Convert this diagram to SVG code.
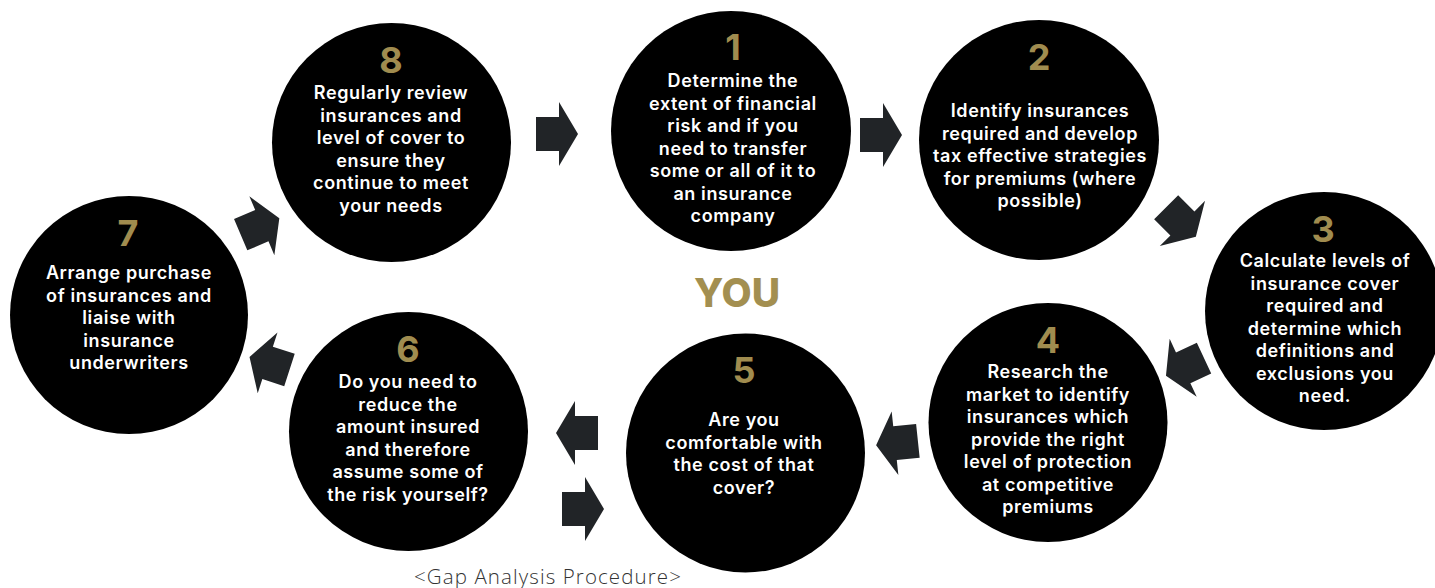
<svg xmlns="http://www.w3.org/2000/svg" width="1435" height="588" viewBox="0 0 1435 588">
<style>
.c{fill:#000}
.n{font-family:Inter,"Liberation Sans",sans-serif;font-weight:700;font-size:36px;fill:#A08C4F;text-anchor:middle}
.t{font-family:Inter,"Liberation Sans",sans-serif;font-weight:600;font-size:18px;letter-spacing:0.6px;fill:#fff;text-anchor:middle}
.you{font-family:Inter,"Liberation Sans",sans-serif;font-weight:800;font-size:39px;fill:#A38F50;text-anchor:middle}
.cap{font-family:"Open Sans","Liberation Sans",sans-serif;font-weight:300;font-size:20.5px;letter-spacing:1.1px;fill:#333;text-anchor:middle}
.a{fill:#212427}
</style>
<defs>
<path id="arr" d="M-21,-17 H2 V-32 L21,0 L2,32 V17 H-21 Z"/>
</defs>
<rect width="1435" height="588" fill="#fff"/>
<g id="connectors">
<use href="#arr" class="a" transform="translate(557,134)"/>
<use href="#arr" class="a" transform="translate(881,135)"/>
<use href="#arr" class="a" transform="translate(1181,222) rotate(45)"/>
<use href="#arr" class="a" transform="translate(1185,367) rotate(155)"/>
<use href="#arr" class="a" transform="translate(897,443) rotate(174)"/>
<use href="#arr" class="a" transform="translate(577,433) rotate(180)"/>
<use href="#arr" class="a" transform="translate(583,509)"/>
<use href="#arr" class="a" transform="translate(269.5,363.5) rotate(198)"/>
<use href="#arr" class="a" transform="translate(260,226.5) rotate(-23)"/>
</g>
<g id="node1">
<circle class="c" cx="731" cy="131" r="120"/>
<text class="n" x="733" y="60">1</text>
<text class="t" x="733" y="87">Determine the</text>
<text class="t" x="733" y="109.5">extent of financial</text>
<text class="t" x="733" y="132">risk and if you</text>
<text class="t" x="733" y="154.5">need to transfer</text>
<text class="t" x="733" y="177">some or all of it to</text>
<text class="t" x="733" y="199.5">an insurance</text>
<text class="t" x="733" y="222">company</text>
</g>
<g id="node2">
<circle class="c" cx="1039" cy="140" r="120"/>
<text class="n" x="1039" y="70">2</text>
<text class="t" x="1040" y="117">Identify insurances</text>
<text class="t" x="1040" y="139.5">required and develop</text>
<text class="t" x="1040" y="162">tax effective strategies</text>
<text class="t" x="1040" y="184.5">for premiums (where</text>
<text class="t" x="1040" y="207">possible)</text>
</g>
<g id="node3">
<circle class="c" cx="1324" cy="311" r="119"/>
<text class="n" x="1323" y="242">3</text>
<text class="t" x="1325" y="267">Calculate levels of</text>
<text class="t" x="1325" y="289.5">insurance cover</text>
<text class="t" x="1325" y="312">required and</text>
<text class="t" x="1325" y="334.5">determine which</text>
<text class="t" x="1325" y="357">definitions and</text>
<text class="t" x="1325" y="379.5">exclusions you</text>
<text class="t" x="1325" y="402">need.</text>
</g>
<g id="node4">
<circle class="c" cx="1048" cy="422.5" r="119.5"/>
<text class="n" x="1048" y="353">4</text>
<text class="t" x="1048" y="378">Research the</text>
<text class="t" x="1048" y="400.5">market to identify</text>
<text class="t" x="1048" y="423">insurances which</text>
<text class="t" x="1048" y="445.5">provide the right</text>
<text class="t" x="1048" y="468">level of protection</text>
<text class="t" x="1048" y="490.5">at competitive</text>
<text class="t" x="1048" y="513">premiums</text>
</g>
<g id="node5">
<circle class="c" cx="745.5" cy="453" r="119.5"/>
<text class="n" x="744" y="383">5</text>
<text class="t" x="744" y="426">Are you</text>
<text class="t" x="744" y="448.5">comfortable with</text>
<text class="t" x="744" y="471">the cost of that</text>
<text class="t" x="744" y="493.5">cover?</text>
</g>
<g id="node6">
<circle class="c" cx="408.5" cy="431.5" r="119.5"/>
<text class="n" x="408" y="362">6</text>
<text class="t" x="408" y="388">Do you need to</text>
<text class="t" x="408" y="410.5">reduce the</text>
<text class="t" x="408" y="433">amount insured</text>
<text class="t" x="408" y="455.5">and therefore</text>
<text class="t" x="408" y="478">assume some of</text>
<text class="t" x="408" y="500.5">the risk yourself?</text>
</g>
<g id="node7">
<circle class="c" cx="129" cy="315" r="119"/>
<text class="n" x="128" y="246">7</text>
<text class="t" x="129" y="279">Arrange purchase</text>
<text class="t" x="129" y="301.5">of insurances and</text>
<text class="t" x="129" y="324">liaise with</text>
<text class="t" x="129" y="346.5">insurance</text>
<text class="t" x="129" y="369">underwriters</text>
</g>
<g id="node8">
<circle class="c" cx="391.5" cy="142.5" r="119.5"/>
<text class="n" x="391" y="73">8</text>
<text class="t" x="391" y="99">Regularly review</text>
<text class="t" x="391" y="121.5">insurances and</text>
<text class="t" x="391" y="144">level of cover to</text>
<text class="t" x="391" y="166.5">ensure they</text>
<text class="t" x="391" y="189">continue to meet</text>
<text class="t" x="391" y="211.5">your needs</text>
</g>
<g id="center">
<text class="you" x="737" y="307">YOU</text>
</g>
<g id="caption">
<text class="cap" x="548" y="584">&lt;Gap Analysis Procedure&gt;</text>
</g>
</svg>
